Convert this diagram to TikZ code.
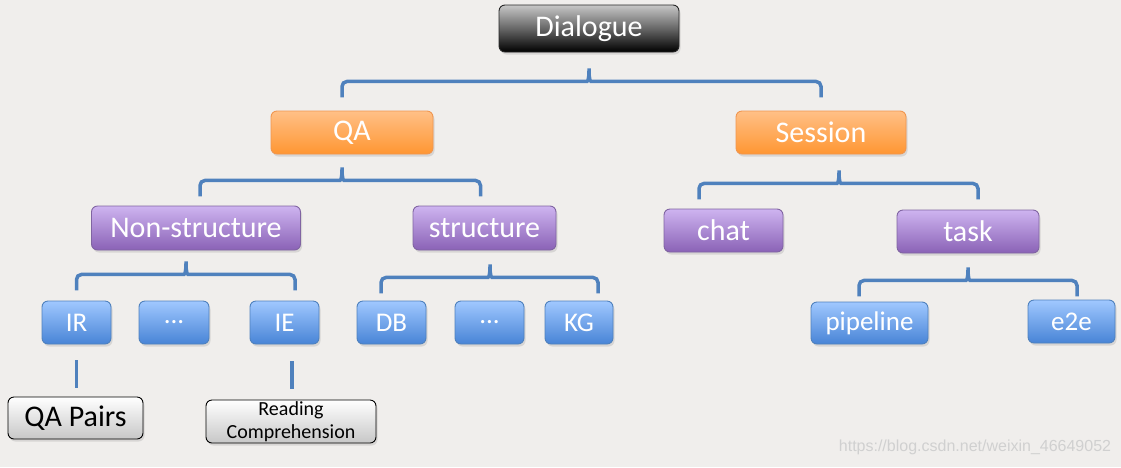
\documentclass[tikz,border=0pt]{standalone}
\usepackage{fontspec}
\setmainfont{Carlito}
\newfontfamily\wmfont{Liberation Sans}
\usetikzlibrary{calc,shadows}
\definecolor{bg}{RGB}{240,238,236}
\definecolor{bracec}{RGB}{79,129,189}
\definecolor{orTop}{RGB}{255,192,135}
\definecolor{orBot}{RGB}{255,150,50}
\definecolor{orLine}{RGB}{240,150,80}
\definecolor{puTop}{RGB}{206,180,240}
\definecolor{puBot}{RGB}{138,98,182}
\definecolor{puLine}{RGB}{128,100,162}
\definecolor{blTop}{RGB}{160,200,255}
\definecolor{blBot}{RGB}{72,132,214}
\definecolor{blLine}{RGB}{79,129,189}
\definecolor{wm}{RGB}{208,208,208}
\tikzset{
  box/.style={rounded corners=6pt, draw, line width=0.9pt, inner sep=0pt,
    minimum height=43pt, text=white, font=\fontsize{30}{32}\selectfont,
    drop shadow={opacity=0.22, shadow xshift=1.5pt, shadow yshift=-2.5pt}},
  darkbox/.style={box, draw=black!85, top color=black!22, bottom color=black, middle color=black!60},
  orbox/.style={box, draw=orLine, top color=orTop, bottom color=orBot},
  pubox/.style={box, draw=puLine, top color=puTop, bottom color=puBot},
  blbox/.style={box, draw=blLine, top color=blTop, bottom color=blBot, font=\fontsize{27}{29}\selectfont},
  graybox/.style={box, draw=black, text=black, top color=white, bottom color=black!22},
  brace/.style={draw=bracec, line width=3.5pt, rounded corners=5pt},
}
% #1 parent, #2 tip dx, #3 left child, #4 left dx, #5 right child, #6 right dx, #7 gap below parent
\newcommand\treebrace[7]{%
  \draw[brace] let \p1=(#1.south), \p2=(#3.north), \p3=(#5.north),
      \n1={\y1-#7pt}, \n2={\y1-#7pt-16pt}, \n3={\y1-#7pt-32pt} in
    ({\x2+#4pt},\n3) -- ({\x2+#4pt},\n2) -- ({\x1+#2pt-7pt},\n2)
    to[out=0,in=-90] ({\x1+#2pt},\n1)
    to[out=-90,in=180] ({\x1+#2pt+7pt},\n2) -- ({\x3+#6pt},\n2) -- ({\x3+#6pt},\n3);
}
\begin{document}
\begin{tikzpicture}
\useasboundingbox (0,0) rectangle (1121pt,-467pt);
\fill[bg] (0,0) rectangle (1121pt,-467pt);

\node[darkbox, minimum width=180pt, minimum height=47pt] (dlg) at (589pt,-28.5pt) {Dialogue};

\node[orbox, minimum width=162pt] (qa) at (352pt,-132.5pt) {QA};
\node[orbox, minimum width=170pt] (ses) at (821pt,-132.5pt) {Session};

\node[pubox, minimum width=209pt, minimum height=44pt] (ns) at (196pt,-228pt) {Non-structure};
\node[pubox, minimum width=143pt, minimum height=44pt] (st) at (484.5pt,-228pt) {structure};
\node[pubox, minimum width=119pt] (chat) at (723.5pt,-230.5pt) {chat};
\node[pubox, minimum width=142pt] (task) at (968pt,-231.5pt) {task};

\node[blbox, minimum width=69pt] (ir) at (76.5pt,-322.5pt) {IR};
\node[blbox, minimum width=70pt] (d1) at (174pt,-322.5pt) {...};
\node[blbox, minimum width=69pt] (ie) at (284.5pt,-322.5pt) {IE};
\node[blbox, minimum width=69pt] (db) at (391.5pt,-322.5pt) {DB};
\node[blbox, minimum width=69pt] (d2) at (489.5pt,-322.5pt) {...};
\node[blbox, minimum width=68pt] (kg) at (579pt,-322.5pt) {KG};
\node[blbox, minimum width=117pt, minimum height=42pt] (pipe) at (869.5pt,-323pt) {pipeline};
\node[blbox, minimum width=87pt] (e2e) at (1071.5pt,-321.5pt) {e2e};

\node[graybox, minimum width=135pt, minimum height=42pt] (qap) at (75.5pt,-418pt) {QA Pairs};
\node[graybox, minimum width=170pt, minimum height=43pt, align=center,
      font=\fontsize{20}{23}\selectfont] (rc) at (291pt,-421.5pt) {Reading\\Comprehension};

\treebrace{dlg}{0}{qa}{-10}{ses}{0}{13}
\treebrace{qa}{-10}{ns}{4}{st}{-4}{10}
\treebrace{ses}{18}{chat}{-24.5}{task}{10}{13}
\treebrace{ns}{-10}{ir}{0}{ie}{10.5}{8}
\treebrace{st}{5.5}{db}{-10.5}{kg}{19}{11}
\treebrace{task}{0}{pipe}{-10.5}{e2e}{5.5}{11}

\draw[brace] let \p1=(ir.south), \p2=(qap.north) in (\x1,{\y1-16pt}) -- (\x1,{\y2+9pt});
\draw[brace] let \p1=(ie.south), \p2=(rc.north) in ({\x1+7.5pt},{\y1-17pt}) -- ({\x1+7.5pt},{\y2+11pt});

\node[text=wm, font=\wmfont\fontsize{16}{18}\selectfont] (wmark) at (975pt,-447pt) {https://blog.csdn.net/weixin\_46649052};
\end{tikzpicture}
\end{document}
